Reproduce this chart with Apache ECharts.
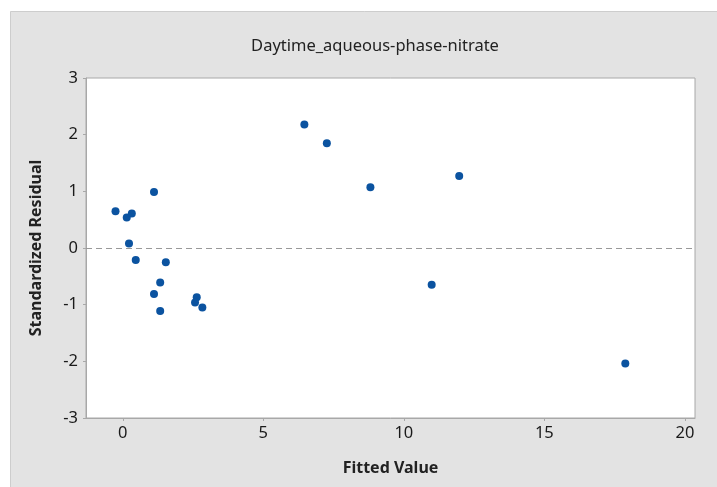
<!DOCTYPE html>
<html>
<head>
<meta charset="utf-8">
<script src="https://cdn.jsdelivr.net/npm/echarts@6/dist/echarts.min.js"></script>
<style>html,body{margin:0;padding:0;background:#fff;}#c{width:717px;height:487px;}</style>
</head>
<body>
<div id="c"></div>
<script>
const fittedValues = [-0.26, 0.14, 0.32, 0.22, 0.46, 1.11, 1.53, 1.33, 1.11, 1.33, 2.63, 2.57, 2.83, 6.46, 7.26, 8.81, 11.97, 10.99, 17.88];
const stdResiduals = [0.65, 0.54, 0.61, 0.08, -0.21, 0.99, -0.25, -0.61, -0.81, -1.11, -0.87, -0.96, -1.05, 2.18, 1.85, 1.07, 1.27, -0.65, -2.04];
const xTicks = [0, 5, 10, 15, 20];
const titleText = 'Daytime_aqueous-phase-nitrate';
const xName = 'Fitted Value';
const yName = 'Standardized Residual';

const points = fittedValues.map((x, i) => [x, stdResiduals[i]]);
const chart = echarts.init(document.getElementById('c'));
const font = 'Noto Sans';
chart.setOption({
  backgroundColor: '#ffffff',
  animation: false,
  graphic: [{
    type: 'rect', z: -10, silent: true,
    shape: {x: 10.5, y: 11.5, width: 720, height: 490},
    style: {fill: '#e3e3e3', stroke: '#cdcdcd', lineWidth: 1}
  }],
  title: {
    text: titleText, left: 370, top: 33, textAlign: 'center',
    textStyle: {fontFamily: font, fontSize: 16.5, fontWeight: 'normal', color: '#222'}
  },
  grid: {
    left: 86, top: 78, right: 22, bottom: 69,
    show: true, backgroundColor: '#ffffff', borderColor: '#a8a8a8', borderWidth: 1
  },
  xAxis: {
    type: 'value', min: -1.31, max: 20.36,
    name: xName, nameLocation: 'middle', nameGap: 42,
    nameTextStyle: {fontFamily: font, fontSize: 16, fontWeight: 'bold', color: '#222'},
    axisLine: {show: true, onZero: false, lineStyle: {color: '#a8a8a8'}},
    axisTick: {show: true, length: 3, customValues: xTicks, lineStyle: {color: '#a8a8a8'}},
    axisLabel: {customValues: xTicks, fontFamily: font, fontSize: 16.5, color: '#1a1a1a', margin: 7},
    splitLine: {show: false}
  },
  yAxis: {
    type: 'value', min: -3, max: 3, interval: 1,
    name: yName, nameLocation: 'middle', nameGap: 42,
    nameTextStyle: {fontFamily: font, fontSize: 16, fontWeight: 'bold', color: '#222'},
    axisLine: {show: true, onZero: false, lineStyle: {color: '#a8a8a8'}},
    axisTick: {show: true, length: 3, lineStyle: {color: '#a8a8a8'}},
    axisLabel: {fontFamily: font, fontSize: 16.5, color: '#1a1a1a', margin: 8},
    splitLine: {show: false}
  },
  series: [{
    type: 'scatter',
    data: points,
    symbolSize: 8,
    itemStyle: {color: '#0b53a0', opacity: 1},
    markLine: {
      silent: true, symbol: 'none', label: {show: false},
      lineStyle: {color: '#999999', type: [6, 4], width: 1},
      data: [{yAxis: 0}]
    }
  }]
});
</script>
</body>
</html>
